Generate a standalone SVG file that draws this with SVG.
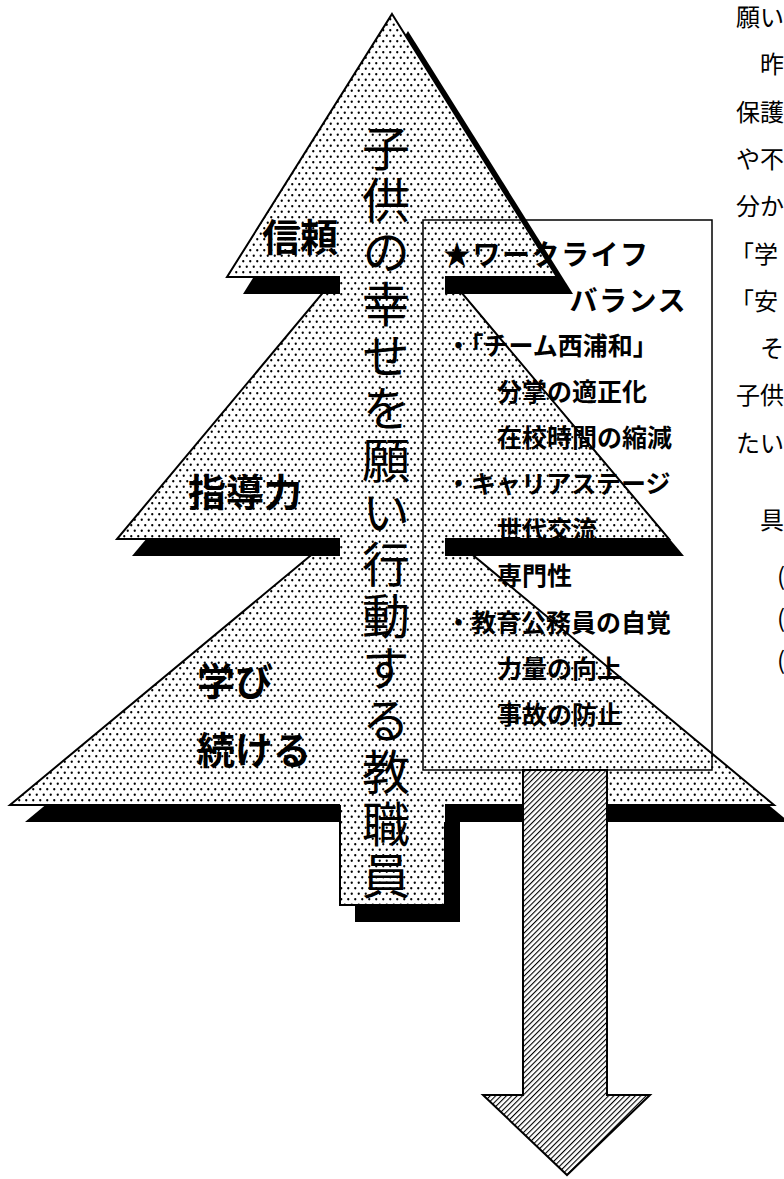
<svg xmlns="http://www.w3.org/2000/svg" width="784" height="1179" viewBox="0 0 784 1179">
<defs>
<pattern id="dots" width="7" height="11" patternUnits="userSpaceOnUse">
<rect width="7" height="11" fill="#fff"/>
<circle cx="1.75" cy="2.75" r="1.15" fill="#000"/>
<circle cx="5.25" cy="8.25" r="1.15" fill="#000"/>
</pattern>
<pattern id="hatch" width="3.8" height="3.8" patternUnits="userSpaceOnUse" patternTransform="rotate(45)">
<rect width="3.8" height="3.8" fill="#fff"/>
<rect width="1.1" height="3.8" fill="#000"/>
</pattern>
<style>
.shadow{fill:#000}
.tri{fill:url(#dots);stroke:#000;stroke-width:2;stroke-linejoin:miter}
.lbl{font-family:"Noto Sans CJK JP",sans-serif;font-weight:700;font-size:38px;fill:#000}
.vt{font-family:"Noto Sans CJK JP",sans-serif;font-weight:400;font-size:48px;fill:#000;writing-mode:vertical-rl;letter-spacing:4px}
.bx{font-family:"Noto Sans CJK JP",sans-serif;font-weight:700;font-size:25px;fill:#000}
.bxl{font-family:"Noto Sans CJK JP",sans-serif;font-weight:700;font-size:28px;fill:#000;letter-spacing:1.5px}
.side{font-family:"Noto Sans CJK JP",sans-serif;font-size:24px;fill:#000}
</style>
</defs>
<rect width="784" height="1179" fill="#fff"/>
<g id="trunk-shadow"><rect class="shadow" x="355" y="780" width="105" height="142"/></g>
<g id="tier-lower">
<polygon class="shadow" points="407,505 789,822 25,822"/>
<polygon class="tri" points="392,488 774,805 10,805"/>
</g>
<g id="tier-middle">
<polygon class="shadow" points="407,227 684,556 132,556"/>
<polygon class="tri" points="392,210 669,539 117,539"/>
</g>
<g id="tier-top">
<polygon class="shadow" points="408,31 573,294 243,294"/>
<polygon class="tri" points="392,14 557,277 227,277"/>
</g>
<g id="trunk">
<rect x="340" y="120" width="105" height="785" fill="url(#dots)"/>
<path d="M340,805 V905 H445 V822" fill="none" stroke="#000" stroke-width="2"/>
<text class="vt" x="386" y="124">子供の幸せを願い行動する教職員</text>
</g>
<g id="connectors">
<polygon points="523,770 607,770 607,1095 650,1095 567,1175 483,1095 523,1095" fill="url(#hatch)" stroke="#000" stroke-width="2" stroke-linejoin="miter"/>
</g>
<g id="box">
<rect x="423" y="220" width="289" height="550" fill="none" stroke="#000" stroke-width="1.5"/>
<text class="bxl" x="443" y="265">★ワークライフ</text>
<text class="bxl" x="687" y="311" text-anchor="end">バランス</text>
<text class="bx" x="446" y="355">・「チーム西浦和」</text>
<text class="bx" x="497" y="401">分掌の適正化</text>
<text class="bx" x="497" y="447">在校時間の縮減</text>
<text class="bx" x="446" y="493">・キャリアステージ</text>
<text class="bx" x="497" y="539">世代交流</text>
<text class="bx" x="497" y="585">専門性</text>
<text class="bx" x="446" y="632">・教育公務員の自覚</text>
<text class="bx" x="497" y="678">力量の向上</text>
<text class="bx" x="497" y="724">事故の防止</text>
</g>
<g id="label-trust"><text class="lbl" x="262" y="251">信頼</text></g>
<g id="label-guidance"><text class="lbl" x="188" y="506">指導力</text></g>
<g id="label-learn"><text class="lbl" x="197" y="695">学び</text><text class="lbl" x="197" y="764">続ける</text></g>
<g id="side-text">
<text class="side" x="736" y="26">願い</text>
<text class="side" x="760" y="73">昨</text>
<text class="side" x="736" y="121">保護</text>
<text class="side" x="736" y="168">や不</text>
<text class="side" x="736" y="215">分か</text>
<text class="side" x="730" y="263">「学</text>
<text class="side" x="730" y="310">「安</text>
<text class="side" x="760" y="357">そ</text>
<text class="side" x="736" y="404">子供</text>
<text class="side" x="736" y="452">たい</text>
<text class="side" x="760" y="529">具</text>
<text class="side" x="777" y="585">(</text>
<text class="side" x="777" y="627">(</text>
<text class="side" x="777" y="669">(</text>
</g>
</svg>
